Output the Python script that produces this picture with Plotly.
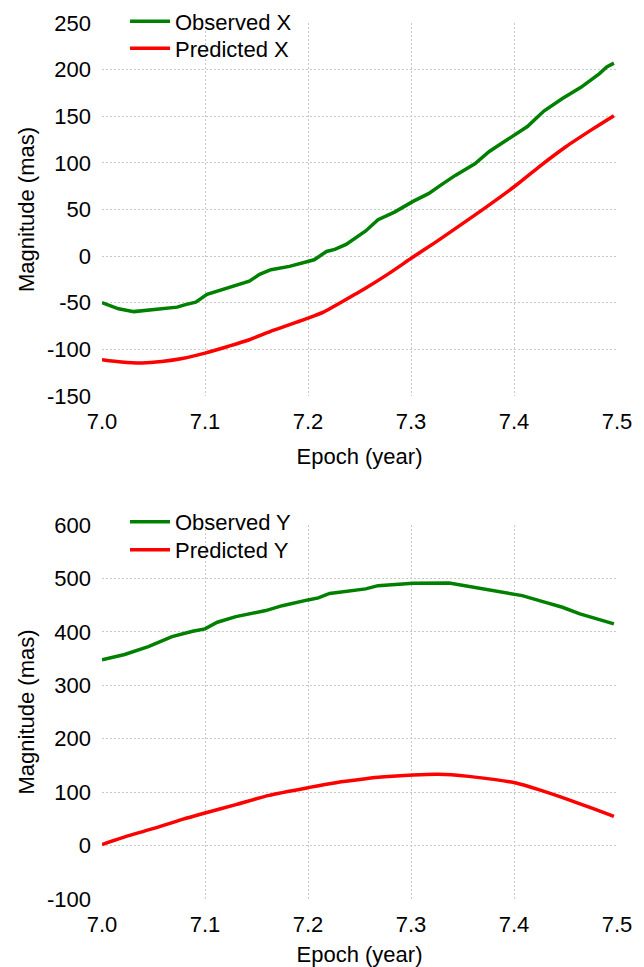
import plotly.graph_objects as go
from plotly.subplots import make_subplots

# Observed / predicted X offsets (mas) against epoch (year)
obs_x_epoch = [7.000, 7.016, 7.031, 7.042, 7.052, 7.073, 7.081, 7.091, 7.102, 7.117,
               7.127, 7.143, 7.153, 7.164, 7.182, 7.198, 7.206, 7.218, 7.226, 7.237,
               7.247, 7.256, 7.268, 7.284, 7.302, 7.317, 7.330, 7.343, 7.362, 7.376,
               7.390, 7.402, 7.413, 7.429, 7.447, 7.465, 7.483, 7.490, 7.497]
obs_x_val = [-50.0, -56.5, -59.5, -58.3, -56.5, -54.7, -52.0, -49.3, -41.0, -36.0,
             -32.5, -26.8, -19.6, -14.6, -11.0, -5.7, -3.9, 5.0, 7.2, 12.6,
             19.7, 27.0, 39.0, 47.2, 58.7, 67.0, 77.0, 86.6, 99.0, 112.3,
             122.3, 131.3, 139.0, 155.6, 169.0, 181.0, 195.7, 202.8, 207.0]

pred_x_epoch = [7.000, 7.019, 7.039, 7.058, 7.078, 7.100, 7.123, 7.143, 7.166, 7.189,
                7.200, 7.215, 7.234, 7.255, 7.278, 7.302, 7.324, 7.350, 7.373, 7.402,
                7.424, 7.450, 7.477, 7.497]
pred_x_val = [-111.0, -113.5, -114.5, -113.0, -109.8, -104.0, -96.6, -89.7, -79.7, -70.8,
              -66.5, -60.0, -48.3, -35.0, -19.0, -1.0, 15.0, 34.8, 52.6, 76.0,
              95.5, 117.0, 136.7, 150.6]

# Observed / predicted Y offsets (mas) against epoch (year)
obs_y_epoch = [7.000, 7.022, 7.045, 7.068, 7.088, 7.100, 7.112, 7.130, 7.159, 7.175,
               7.200, 7.210, 7.221, 7.240, 7.256, 7.268, 7.302, 7.337, 7.356, 7.379,
               7.395, 7.408, 7.428, 7.447, 7.464, 7.477, 7.490, 7.497]
obs_y_val = [347.7, 357.6, 372.5, 391.0, 401.0, 405.6, 418.0, 428.6, 439.8, 449.0,
             459.8, 463.5, 472.0, 476.0, 480.4, 486.5, 490.8, 491.6, 485.0, 478.5,
             472.0, 467.8, 456.6, 446.0, 433.6, 426.0, 418.0, 415.0]

pred_y_epoch = [7.000, 7.025, 7.052, 7.078, 7.100, 7.130, 7.162, 7.200, 7.227, 7.256,
                7.271, 7.302, 7.327, 7.356, 7.382, 7.402, 7.424, 7.450, 7.477, 7.497]
pred_y_val = [1.9, 18.0, 33.0, 49.0, 61.0, 76.6, 94.0, 108.4, 117.7, 125.0,
              128.2, 132.0, 133.3, 129.5, 123.4, 117.0, 104.7, 87.9, 69.0, 54.8]

x_ticks = [7.0, 7.1, 7.2, 7.3, 7.4, 7.5]
top_y_ticks = [-150, -100, -50, 0, 50, 100, 150, 200, 250]
bottom_y_ticks = [-100, 0, 100, 200, 300, 400, 500, 600]

GREEN = "#008000"
RED = "#ff0000"
FONT = "Liberation Sans, Arial, sans-serif"
FS = 22
LW = 3.5

fig = make_subplots(rows=2, cols=1, vertical_spacing=0.0)

# each legend entry sits in its own legend box so rows can be spaced tightly
fig.add_trace(go.Scatter(x=obs_x_epoch, y=obs_x_val, mode="lines", name="Observed X",
                         line=dict(color=GREEN, width=LW), legend="legend",
                         showlegend=True), row=1, col=1)
fig.add_trace(go.Scatter(x=pred_x_epoch, y=pred_x_val, mode="lines", name="Predicted X",
                         line=dict(color=RED, width=LW, shape="spline", smoothing=0.6),
                         legend="legend2", showlegend=True), row=1, col=1)
fig.add_trace(go.Scatter(x=obs_y_epoch, y=obs_y_val, mode="lines", name="Observed Y",
                         line=dict(color=GREEN, width=LW), legend="legend3",
                         showlegend=True), row=2, col=1)
fig.add_trace(go.Scatter(x=pred_y_epoch, y=pred_y_val, mode="lines", name="Predicted Y",
                         line=dict(color=RED, width=LW, shape="spline", smoothing=0.6),
                         legend="legend4", showlegend=True), row=2, col=1)

axis_common = dict(
    showline=False, zeroline=False, ticks="",
    showgrid=True, gridcolor="#c8c8c8", gridwidth=1, griddash="2px,2px",
    tickfont=dict(family=FONT, size=FS, color="black"),
    title_font=dict(family=FONT, size=FS, color="black"),
)

for r, yticks in ((1, top_y_ticks), (2, bottom_y_ticks)):
    fig.update_xaxes(range=[7.0, 7.5], tickvals=x_ticks,
                     ticktext=[f"{v:.1f}" for v in x_ticks],
                     ticklabelstandoff=10, title_text="Epoch (year)", title_standoff=15,
                     row=r, col=1, **axis_common)
    fig.update_yaxes(range=[yticks[0], yticks[-1]], tickvals=yticks,
                     ticktext=[str(v) for v in yticks],
                     ticklabelstandoff=10, title_text="Magnitude (mas)", title_standoff=6,
                     row=r, col=1, **axis_common)

# Pixel layout: plot areas at y 23..396 and 525..899 in a 967 px tall page
W, H = 644, 967
ml, mr, mt, mb = 102, 27, 23, 68
pw = W - ml - mr
ph = H - mt - mb
fig.update_layout(yaxis=dict(domain=[1 - 373 / ph, 1]),
                  yaxis2=dict(domain=[0, 1 - (525 - mt) / ph]))

legend_common = dict(
    xref="paper", yref="paper", xanchor="left", yanchor="top",
    bgcolor="rgba(0,0,0,0)", borderwidth=0,
    font=dict(family=FONT, size=FS, color="black"),
    itemwidth=40,
)


def legend_at(top_px):
    return dict(x=(125 - ml) / pw, y=1 - (top_px - mt) / ph, **legend_common)


fig.update_layout(
    width=W, height=H,
    showlegend=True,
    margin=dict(l=ml, r=mr, t=mt, b=mb, autoexpand=False),
    paper_bgcolor="white", plot_bgcolor="white",
    font=dict(family=FONT, size=FS, color="black"),
    legend=legend_at(0.5),
    legend2=legend_at(27.5),
    legend3=legend_at(501),
    legend4=legend_at(529),
)

fig.write_html("out.html")
